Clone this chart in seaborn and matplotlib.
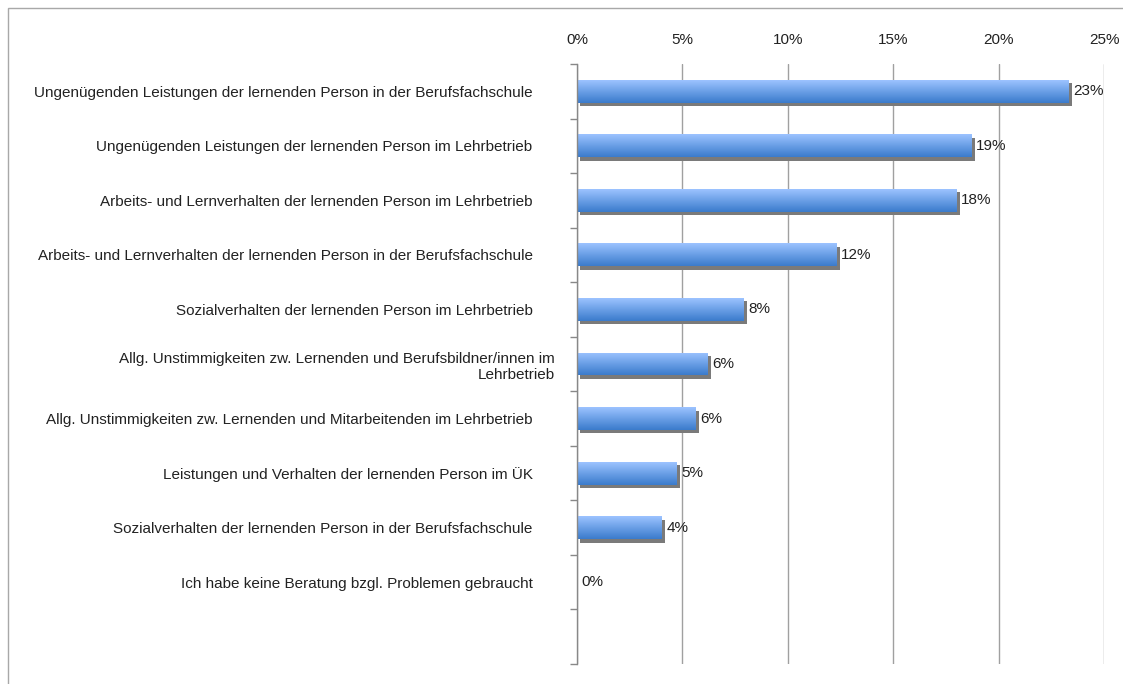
import numpy as np
import pandas as pd
import matplotlib
matplotlib.use("Agg")
import matplotlib.pyplot as plt
import matplotlib.patheffects as pe
from matplotlib.colors import LinearSegmentedColormap
from matplotlib.patches import Rectangle
from matplotlib.transforms import ScaledTranslation
import seaborn as sns

categories = [
    "Ungenügenden Leistungen der lernenden Person in der Berufsfachschule",
    "Ungenügenden Leistungen der lernenden Person im Lehrbetrieb",
    "Arbeits- und Lernverhalten der lernenden Person im Lehrbetrieb",
    "Arbeits- und Lernverhalten der lernenden Person in der Berufsfachschule",
    "Sozialverhalten der lernenden Person im Lehrbetrieb",
    "Allg. Unstimmigkeiten zw. Lernenden und Berufsbildner/innen im\nLehrbetrieb",
    "Allg. Unstimmigkeiten zw. Lernenden und Mitarbeitenden im Lehrbetrieb",
    "Leistungen und Verhalten der lernenden Person im ÜK",
    "Sozialverhalten der lernenden Person in der Berufsfachschule",
    "Ich habe keine Beratung bzgl. Problemen gebraucht",
]
values = [23.3, 18.7, 18.0, 12.3, 7.9, 6.2, 5.6, 4.7, 4.0, 0.0]
xticks = [0, 5, 10, 15, 20, 25]


def main():
    sns.set_style("white")
    plt.rcParams['font.family'] = ['Liberation Sans', 'DejaVu Sans']

    df = pd.DataFrame({'cat': categories, 'val': values})

    fig = plt.figure(figsize=(11.23, 6.84), dpi=100)
    ax = fig.add_axes([577 / 1123, 20 / 684, 527 / 1123, 600 / 684])

    sns.barplot(data=df, x='val', y='cat', orient='h', width=0.42,
                color='#5b93e0', linewidth=0, ax=ax, zorder=1)

    # gradient fill (light on top) + grey drop shadow on every bar
    cmap = LinearSegmentedColormap.from_list('bar', ['#9cc3ff', '#6a9fe6', '#3b7bcc'])
    grad = np.linspace(0, 1, 64).reshape(-1, 1)
    bars = ax.containers[0]
    for p in bars.patches:
        p.set_path_effects([pe.SimplePatchShadow(offset=(2.5, -2.5), shadow_rgbFace='#7a7a7a', alpha=1),
                            pe.Normal()])
        x0, y0 = p.get_x(), p.get_y()
        w, h = p.get_width(), p.get_height()
        if w <= 0:
            continue
        im = ax.imshow(grad, cmap=cmap, aspect='auto', zorder=2,
                       extent=[x0, x0 + w, y0 + h, y0], origin='upper')
        im.set_clip_path(p)

    ax.bar_label(bars, labels=[f"{v:.0f}%" for v in values], padding=3.5, fontsize=11, color='#222222')

    ax.set_xlim(0, 25)
    ax.set_ylim(10.5, -0.5)
    ax.xaxis.tick_top()
    ax.set_xticks(xticks)
    ax.set_xticklabels([f"{t}%" for t in xticks])
    ax.tick_params(axis='x', length=0, pad=12, labelsize=11, labelcolor='#222222')
    ax.set_yticks(range(len(categories)))
    ax.set_yticklabels(categories)
    ax.tick_params(axis='y', which='major', length=0, pad=32, labelsize=11, labelcolor='#222222')
    ax.set_yticks(np.arange(-0.5, 11, 1), minor=True)
    ax.tick_params(axis='y', which='minor', length=5, width=1, color='#888888', left=True)
    ax.set_xlabel('')
    ax.set_ylabel('')

    # the wrapped label sits a bit further right in the original
    lbl = ax.get_yticklabels()[5]
    lbl.set_transform(lbl.get_transform() + ScaledTranslation(0.22, 0, fig.dpi_scale_trans))

    ax.xaxis.grid(True, color='#a0a0a0', lw=1)
    ax.set_axisbelow(True)
    for s in ['top', 'right', 'bottom']:
        ax.spines[s].set_visible(False)
    ax.spines['left'].set_color('#888888')
    ax.spines['left'].set_linewidth(1)

    fig.add_artist(Rectangle((8 / 1123, -0.05), 1.2, 1 - 8 / 684 + 0.05, transform=fig.transFigure,
                             fill=False, ec='#a8a8a8', lw=1))

    fig.savefig('out.png', dpi=100)


if __name__ == "__main__":
    main()
